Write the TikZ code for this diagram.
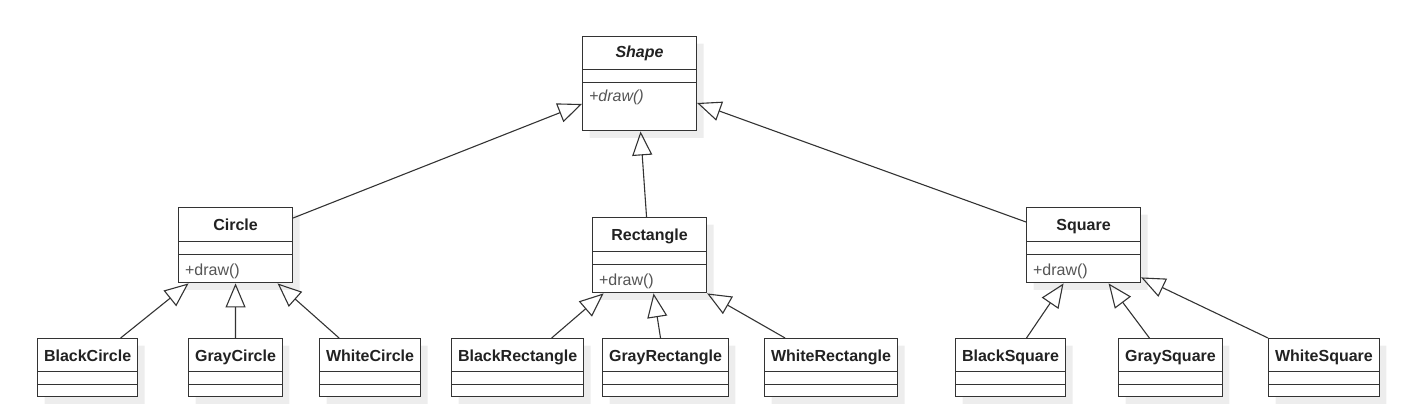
\documentclass[tikz,border=0pt]{standalone}
\usepackage{fontspec}
\setmainfont{Liberation Sans}
\usepackage{tikz}
\usetikzlibrary{shapes}
\usetikzlibrary{arrows.meta}
\usetikzlibrary{shadows}
\definecolor{umlline}{HTML}{333333}
\definecolor{umltext}{HTML}{222222}
\definecolor{umlop}{HTML}{555555}
\definecolor{umlshadow}{HTML}{EDEDED}
\newcommand{\clsname}[1]{\rule[-10pt]{0pt}{32pt}\textbf{#1}}
\newcommand{\parname}[1]{\rule[-11pt]{0pt}{33pt}\makebox[101pt]{\textbf{#1}}}
\newcommand{\parop}[1]{\rule[-7pt]{0pt}{27pt}\makebox[101pt][l]{\color{umlop}#1}}

\begin{document}
\begin{tikzpicture}[
  x=1pt, y=-1pt,
  gen/.style ={
    -{Triangle[open,length=24pt,width=20pt]},line width=1.1pt,draw=umlline
  },
  cls/.style={
    rectangle split,
    rectangle split parts=3,
    draw=umlline,
    line width=1.1pt,
    fill=white,
    text=umltext,
    inner xsep=6.5pt,
    inner ysep=0pt,
    anchor=north west,
    font=\fontsize{16pt}{19pt}\selectfont,
    drop shadow={shadow xshift=7pt,shadow yshift=-7pt,fill=umlshadow,opacity=1}},
]

  \def\leafy{338}%

  \useasboundingbox (0,0) rectangle (1415,414);

    % Abstract base
  \node[cls] (Shape) at (582,36)
    {\rule[-12pt]{0pt}{32pt}\makebox[101pt]{\textbf{\textit{Shape}}}
     \nodepart{two}\rule{0pt}{12pt}
     \nodepart{three}\rule[-29pt]{0pt}{47pt}\makebox[101pt][l]{\color{umlop}\textit{+draw()}}};

    % Middle level
  \node[cls] (Circle) at (178,207)
    {\parname{Circle} \nodepart{two}\rule{0pt}{12pt} \nodepart{three}\parop{+draw()}};
  \node[cls] (Rectangle) at (592,217)
    {\parname{Rectangle} \nodepart{two}\rule{0pt}{12pt} \nodepart{three}\parop{+draw()}};
  \node[cls] (Square) at (1026,207)
    {\parname{Square} \nodepart{two}\rule{0pt}{12pt} \nodepart{three}\parop{+draw()}};

    % Leaf classes
  \foreach \cls/\x in {BlackCircle/37,GrayCircle/188,WhiteCircle/319,
      BlackRectangle/451,GrayRectangle/602,WhiteRectangle/764,
      BlackSquare/955,GraySquare/1118,WhiteSquare/1268} {
    \node[cls] (\cls) at (\x,\leafy)
      {\clsname{\cls} \nodepart{two}\rule{0pt}{12pt} \nodepart{three}\rule{0pt}{11pt}};
  }

  \draw[gen] ([yshift=-11pt]Circle.north east) to ([yshift=-68pt]Shape.north west);
  \draw[gen] ([xshift=-3pt]Rectangle.north) to ([xshift=1pt]Shape.south);
  \draw[gen] ([yshift=-15pt]Square.north west) to ([yshift=-67pt]Shape.north east);

  \draw[gen] ([xshift=33pt]BlackCircle.north) to ([xshift=-47pt]Circle.south);
  \draw[gen] (GrayCircle.north) to (Circle.south);
  \draw[gen] ([xshift=-31pt]WhiteCircle.north) to ([xshift=42pt]Circle.south);

  \draw[gen] ([xshift=34pt]BlackRectangle.north) to ([xshift=-46pt]Rectangle.south);
  \draw[gen] ([xshift=-5pt]GrayRectangle.north) to ([xshift=4pt]Rectangle.south);
  \draw[gen] ([xshift=-46pt]WhiteRectangle.north) to (Rectangle.south east);

  \draw[gen] ([xshift=16pt]BlackSquare.north) to ([xshift=-20pt]Square.south);
  \draw[gen] ([xshift=-21pt]GraySquare.north) to ([xshift=25pt]Square.south);
  \draw[gen] (WhiteSquare.north west) to ([yshift=6pt]Square.south east);

\end{tikzpicture}
\end{document}
